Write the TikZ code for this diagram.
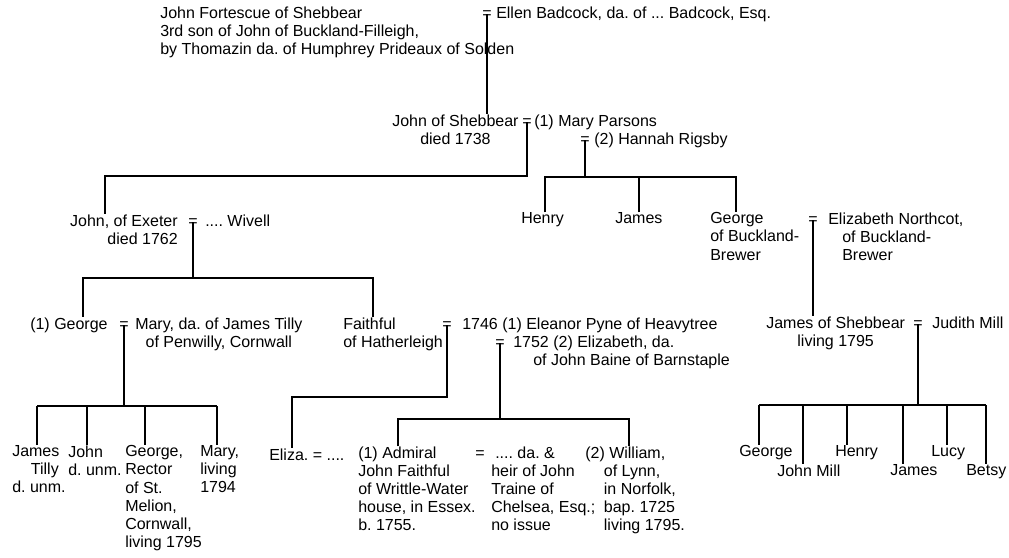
\documentclass[tikz,border=0pt]{standalone}
\usepackage{fontspec}
\setmainfont{Liberation Sans}
\frenchspacing
\tikzset{
  pers/.style={inner sep=0pt, anchor=north west, yshift=8.7pt, align=left},
  eq/.style={inner sep=0pt, anchor=base},
  famline/.style={line width=1.3pt}
}
\begin{document}
\begin{tikzpicture}[x=0.75pt,y=-0.75pt,font=\fontsize{12}{13.6}\selectfont]
\useasboundingbox (0,0) rectangle (1009,557);

% Fortescue and Badcock
\node[pers] (fort) at (160,18) {John Fortescue of Shebbear\\3rd son of John of Buckland-Filleigh,\\by Thomazin da. of Humphrey Prideaux of Solden};
\node[eq] (m0) at (487,18) {=};
\node[pers] (ellen) at (496,18) {Ellen Badcock, da. of ... Badcock, Esq.};

\node[pers, align=center] (js) at (392,126) {John of Shebbear\\died 1738};
\node[eq] (m1) at (527,126) {=};
\node[pers] (maryp) at (534,126) {(1) Mary Parsons};
\node[eq] (m2) at (585,144) {=};
\node[pers] (hannah) at (594,144) {(2) Hannah Rigsby};
\draw[famline] (m0.center) -- (m0.center |- js.north);

% first marriage
\node[pers, anchor=north east, align=right] (jex) at (178,226) {John, of Exeter\\died 1762};
\node[eq] (m3) at (193,226) {=};
\node[pers] (wivell) at (205,226) {.... Wivell};
\draw[famline] (m1.center) |- (105,176) -- (105,176 |- jex.north);

% second marriage
\node[pers] (henry) at (521,224) {Henry};
\node[pers] (jamesb) at (615,224) {James};
\node[pers] (george) at (710,224) {George\\of Buckland-\\Brewer};
\node[eq] (m4) at (813,224) {=};
\node[pers] (northcot) at (828,224) {Elizabeth Northcot,\\\hspace*{10.5pt}of Buckland-\\\hspace*{10.5pt}Brewer};
\draw[famline] (m2.center) -- (585,177);
\draw[famline] (545,177 |- henry.north) |- (736,177) -- (736,177 |- george.north);
\draw[famline] (jamesb.north) -- (jamesb.north |- 0,177);

% James of Shebbear
\node[pers, align=center] (jshe) at (766,328) {James of Shebbear\\living 1795};
\node[eq] (m5) at (918,328) {=};
\node[pers] (judith) at (932,328) {Judith Mill};
\draw[famline] (m4.center) -- (m4.center |- jshe.north);
\draw[famline] (m5.center) -- (m5.center |- 0,405);
\draw[famline] (759,405) -- (986,405);
\foreach \lx/\tx/\ty/\k/\txt in {759/739/457/ge/George, 803/777/476/jm/John Mill,
  847/835/457/he/Henry, 903/890/476/ja/James, 947/931/457/lu/Lucy, 986/966/476/be/Betsy}
{
  \node[pers] (k\k) at (\tx,\ty) {\txt};
  \draw[famline] (\lx,405) -- (\lx,405 |- k\k.north);
}

% John of Exeter's children
\node[pers] (geo1) at (30,329) {(1) George};
\node[eq] (m6) at (124,329) {=};
\node[pers, align=center] (tilly) at (135,329) {Mary, da. of James Tilly\\of Penwilly, Cornwall};
\node[pers] (faith) at (343,329) {Faithful\\of Hatherleigh};
\node[eq] (m7) at (447,329) {=};
\node[pers] (pyne) at (462,329) {1746 (1) Eleanor Pyne of Heavytree};
\node[eq] (m8) at (500,347) {=};
\node[pers] (baine) at (513,347) {1752 (2) Elizabeth, da.\\\hspace*{15pt}of John Baine of Barnstaple};
\draw[famline] (m3.center) |- (83,278) -- (83,278 |- geo1.north);
\draw[famline] (193,278) -| (373,278 |- faith.north);

% George and Mary Tilly
\node[pers] (jt) at (12,457) {James\\\hspace*{14pt}Tilly\\d. unm.};
\node[pers] (jn) at (68,457) {John\\d. unm.};
\node[pers] (gr) at (125,457) {George,\\Rector\\of St.\\Melion,\\Cornwall,\\living 1795};
\node[pers] (my) at (200,457) {Mary,\\living\\1794};
\draw[famline] (m6.center) -- (124,406);
\draw[famline] (37,406) -- (217,406);
\foreach \x/\k in {37/jt, 87/jn, 145/gr, 217/my}
  \draw[famline] (\x,406) -- (\x,406 |- \k.north);

% Faithful's children
\node[pers] (eliza) at (269,460) {Eliza. = ....};
\draw[famline] (m7.center) |- (292,397) -- (292,397 |- eliza.north);
\node[pers] (adm) at (358,458) {(1) Admiral\\John Faithful\\of Writtle-Water\\house, in Essex.\\b. 1755.};
\node[eq] (m9) at (480,458) {=};
\node[pers] (traine) at (491,458) {\hspace*{3pt}.... da. \&\\heir of John\\Traine of\\Chelsea, Esq.;\\no issue};
\node[pers] (will) at (585,458) {(2) William,\\\hspace*{14pt}of Lynn,\\\hspace*{14pt}in Norfolk,\\\hspace*{14pt}bap. 1725\\\hspace*{14pt}living 1795.};
\draw[famline] (m8.center) -- (500,419);
\draw[famline] (398,419 |- adm.north) |- (629,419) -- (629,419 |- will.north);

\end{tikzpicture}
\end{document}
